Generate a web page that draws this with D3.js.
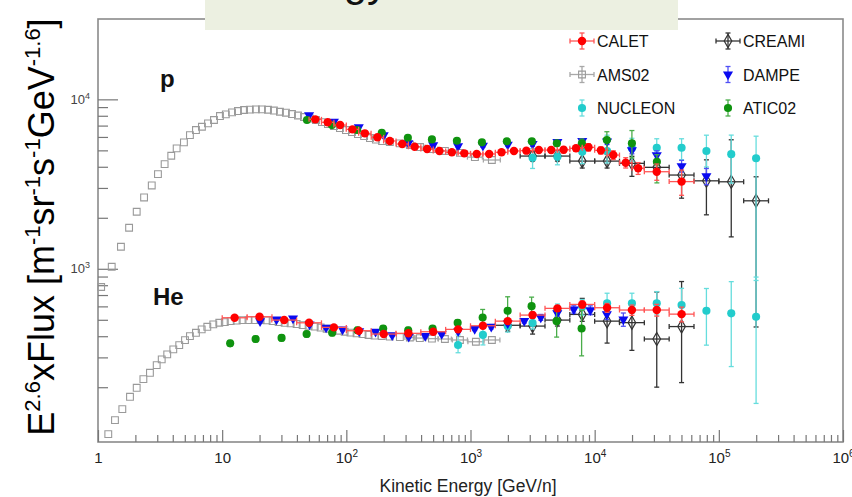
<!DOCTYPE html>
<html>
<head>
<meta charset="utf-8">
<script src="https://cdn.jsdelivr.net/npm/d3@7"></script>
<style>
  body { margin: 0; background: #fff; }
  text { font-family: "Liberation Sans", Arial, sans-serif; }
</style>
</head>
<body>
<script>
// ---- data (E in GeV/n, flux = E^2.6 x Flux) ----
var xTicks = [1, 10, 1e2, 1e3, 1e4, 1e5, 1e6];
var yTicks = [1e3, 1e4];

var amsP_E = [1.06, 1.29, 1.53, 1.78, 2.05, 2.35, 2.71, 3.04, 3.44, 3.89, 4.30, 4.92, 5.50, 6.15, 6.87, 7.69, 8.59, 9.60, 10.7, 12.0, 13.4, 15.0, 16.7, 18.7, 20.9, 23.4, 26.1, 29.2, 32.6, 36.5, 40.8, 45.6, 50.9, 56.9, 63.6, 71.1, 79.5, 88.8, 99.3, 111, 124, 139, 155, 173, 194, 224, 270, 325, 392, 489, 622, 822, 1085, 1486];
var amsP_F = [781, 1028, 1349, 1746, 2170, 2636, 3104, 3622, 4150, 4645, 5140, 5576, 6150, 6590, 6890, 7216, 7555, 7969, 8150, 8380, 8530, 8650, 8700, 8720, 8720, 8680, 8590, 8450, 8340, 8190, 8030, 7870, 7710, 7555, 7340, 7150, 6950, 6760, 6590, 6410, 6240, 6070, 5910, 5790, 5675, 5600, 5500, 5380, 5230, 5090, 4960, 4830, 4560, 4385];

var amsHe_E = [1.21, 1.37, 1.57, 1.81, 2.05, 2.32, 2.62, 2.97, 3.26, 3.61, 4.04, 4.51, 5.02, 5.50, 6.15, 6.84, 7.59, 8.48, 9.48, 10.5, 11.7, 13.1, 14.6, 16.3, 18.3, 20.4, 22.8, 25.5, 28.5, 31.9, 35.6, 39.8, 44.5, 49.7, 55.6, 62.1, 69.4, 77.6, 86.7, 96.9, 108, 121, 135, 151, 169, 193, 224, 270, 325, 391, 489, 622, 822, 1105, 1487];
var amsHe_F = [105.7, 127.9, 148.5, 175.6, 198.4, 223.4, 243.3, 270.1, 291.9, 312.4, 334.4, 354.5, 379.5, 400.6, 419, 438.8, 454.6, 469.7, 480.1, 484.7, 491.3, 494.6, 498, 498, 498, 498, 496, 491, 485, 480, 476, 472, 465, 460, 456, 450, 443, 436, 431, 425, 420, 416, 412, 407, 403, 401, 398, 395, 393, 390, 387, 385, 380, 371, 380];

var caletP_E = [56.2, 70.8, 89.1, 112, 141, 178, 224, 282, 355, 447, 562, 708, 891, 1122, 1413, 1778, 2239, 2818, 3548, 4467, 5623, 7079, 8913, 11220, 14125, 17783, 22387, 31623, 50119];
var caletP_F = [7620, 7320, 7050, 6650, 6300, 5970, 5680, 5450, 5250, 5090, 4960, 4870, 4800, 4760, 4760, 4870, 4960, 4980, 5020, 5020, 5040, 5140, 5210, 5000, 4690, 4230, 3920, 3740, 3270];
var caletP_err = [0.02, 0.02, 0.02, 0.02, 0.02, 0.02, 0.02, 0.02, 0.02, 0.02, 0.02, 0.02, 0.02, 0.02, 0.02, 0.02, 0.02, 0.03, 0.03, 0.03, 0.04, 0.04, 0.05, 0.05, 0.06, 0.07, 0.08, 0.11, 0.17];
var caletP_bin = [0.05, 0.05, 0.05, 0.05, 0.05, 0.05, 0.05, 0.05, 0.05, 0.05, 0.05, 0.05, 0.05, 0.05, 0.05, 0.05, 0.05, 0.05, 0.05, 0.05, 0.05, 0.05, 0.05, 0.05, 0.05, 0.05, 0.05, 0.1, 0.1];

var caletHe_E = [12.6, 20.0, 31.6, 50.1, 79.4, 126, 200, 316, 501, 794, 1259, 1995, 3162, 5012, 7943, 12589, 19953, 31623, 50119];
var caletHe_F = [514, 521, 498, 480, 451, 431, 412, 416, 425, 439, 461, 491, 533, 584, 616, 589, 571, 571, 540];
var caletHe_err = [0.02, 0.02, 0.02, 0.02, 0.02, 0.02, 0.02, 0.02, 0.02, 0.02, 0.03, 0.03, 0.04, 0.04, 0.05, 0.06, 0.07, 0.08, 0.1];

var dampeP_E = [50.1, 79.4, 126, 200, 316, 501, 794, 1259, 1995, 3162, 5012, 7943, 12589, 19953, 31623, 50119, 79433];
var dampeP_F = [8080, 7380, 6850, 6150, 5520, 5370, 5300, 5330, 5410, 5450, 5600, 5680, 5640, 5020, 4690, 4040, 3520];
var dampeP_err = [0.02, 0.02, 0.02, 0.02, 0.02, 0.02, 0.02, 0.02, 0.02, 0.03, 0.03, 0.03, 0.04, 0.05, 0.06, 0.08, 0.11];

var dampeHe_E = [20.2, 27.4, 37.2, 50.6, 68.7, 93.3, 127, 172, 234, 318, 432, 586, 796, 1081, 1469, 1995, 2710, 3681, 5000, 6792, 9226, 12531, 17022];
var dampeHe_F = [491, 503, 510, 470, 450, 439, 429, 425, 406, 397, 401, 412, 429, 441, 455, 478, 493, 517, 548, 576, 570, 540, 503];
var dampeHe_err = [0.02, 0.02, 0.02, 0.02, 0.02, 0.02, 0.02, 0.02, 0.02, 0.02, 0.02, 0.02, 0.02, 0.02, 0.03, 0.03, 0.03, 0.04, 0.04, 0.05, 0.06, 0.07, 0.09];

var nucP_E = [3162, 5012, 7943, 12589, 19953, 31623, 50119, 79433, 125893, 199526];
var nucP_F = [4520, 4580, 4910, 4955, 5140, 5180, 5180, 4955, 4750, 4490];
var nucP_up = [0.135, 0.07, 0.19, 0.24, 0.146, 0.13, 0.13, 0.24, 0.295, 0.35];
var nucP_dn = [0.135, 0.103, 0.15, 0.15, 0.162, 0.14, 0.15, 0.195, 0.326, 0.81];

var nucHe_E = [794, 1259, 1995, 3162, 5012, 7943, 12589, 19953, 31623, 50119, 79433, 125893, 199526];
var nucHe_F = [355, 407, 459, 479, 571, 597, 626, 626, 626, 611, 565, 546, 521];
var nucHe_up = [0.146, 0.12, 0.085, 0.085, 0.085, 0.104, 0.146, 0.146, 0.172, 0.255, 0.354, 0.538, 0.715];
var nucHe_dn = [0.1, 0.127, 0.078, 0.078, 0.078, 0.107, 0.087, 0.127, 0.147, 0.15, 0.373, 0.515, 0.692];

var creamP_E = [3162, 5012, 7943, 12589, 19953, 31623, 50119, 79433, 125893, 199526];
var creamP_F = [4627, 4627, 4321, 4321, 4191, 3970, 3575, 3305, 3262, 2519];
var creamP_up = [0.07, 0.07, 0.1, 0.1, 0.1, 0.085, 0.146, 0.33, 0.77, 0.386];
var creamP_dn = [0.066, 0.066, 0.09, 0.09, 0.162, 0.078, 0.27, 0.37, 0.527, 0.82];

var creamHe_E = [1995, 3162, 5012, 7943, 12589, 19953, 31623, 50119];
var creamHe_F = [464, 459, 498, 538, 491, 481, 385, 456];
var creamHe_up = [0.085, 0.115, 0.085, 0.243, 0.295, 0.348, 0.895, 0.844];
var creamHe_dn = [0.078, 0.103, 0.078, 0.09, 0.258, 0.314, 0.48, 0.533];

var aticP_E = [48.2, 76.6, 122, 193, 313, 489, 777, 1236, 1963, 3120, 4960, 7890, 12540, 19950, 31700];
var aticP_F = [7550, 7050, 6590, 6350, 5930, 5800, 5700, 5575, 5650, 5650, 5500, 5500, 5750, 5500, 4285];
var aticP_up = [0.02, 0.02, 0.02, 0.02, 0.02, 0.02, 0.02, 0.02, 0.02, 0.03, 0.04, 0.06, 0.12, 0.19, 0.1];
var aticP_dn = [0.02, 0.02, 0.02, 0.02, 0.02, 0.02, 0.02, 0.02, 0.02, 0.03, 0.04, 0.06, 0.13, 0.18, 0.25];

var aticHe_E = [11.6, 18.6, 30.1, 47.9, 76.9, 123, 198, 315, 495, 788, 1253, 1991, 3105, 4940, 7850];
var aticHe_F = [363, 385, 391, 412, 419, 434, 444, 434, 444, 480, 516, 565, 602, 491, 444];
var aticHe_up = [0.04, 0.04, 0.04, 0.04, 0.04, 0.04, 0.04, 0.04, 0.04, 0.04, 0.115, 0.21, 0.13, 0.16, 0.28];
var aticHe_dn = [0.04, 0.04, 0.04, 0.04, 0.04, 0.04, 0.04, 0.04, 0.04, 0.04, 0.103, 0.127, 0.14, 0.195, 0.31];

// ---- set up ----
var width = 852, height = 497;
var frameL = 98, frameR = 843, frameT = 19, frameB = 442;

var svg = d3.select("body").append("svg")
    .attr("width", width)
    .attr("height", height);

var x = d3.scaleLog().domain([1, 1e6]).range([frameL, frameR]);
var y = d3.scaleLog().domain([95, 29800]).range([frameB, frameT]);

// frame
svg.append("rect")
    .attr("x", frameL).attr("y", frameT)
    .attr("width", frameR - frameL).attr("height", frameB - frameT)
    .attr("fill", "#fff")
    .attr("stroke", "#8a8a8a")
    .attr("stroke-width", 1.6);

// minor tick values, 2..9 of each decade
function minors(lo, hi) {
  var out = [];
  for (var e = lo; e < hi; e++)
    for (var k = 2; k <= 9; k++) out.push(k * Math.pow(10, e));
  return out;
}

// X axis, ticks pointing into the frame
svg.append("g")
    .attr("transform", "translate(0," + frameB + ")")
    .call(d3.axisBottom(x).tickValues(minors(0, 6)).tickSizeInner(-7).tickSizeOuter(0).tickFormat(""))
    .call(g => g.select(".domain").remove())
    .call(g => g.selectAll("line").attr("stroke", "#777").attr("stroke-width", 1.2));

svg.append("g")
    .attr("transform", "translate(0," + frameB + ")")
    .call(d3.axisBottom(x).tickValues(xTicks).tickSizeInner(-12).tickSizeOuter(0).tickPadding(10))
    .call(g => g.select(".domain").remove())
    .call(g => g.selectAll("line").attr("stroke", "#777").attr("stroke-width", 1.2))
    .call(g => g.selectAll("text").each(function(d) {
      var t = d3.select(this).text("")
          .attr("font-size", 15).attr("fill", "#222")
          .attr("font-family", "'Liberation Sans', Arial, sans-serif");
      var e = Math.round(Math.log10(d));
      if (e === 0) t.text("1");
      else if (e === 1) t.text("10");
      else {
        t.append("tspan").text("10");
        t.append("tspan").attr("dy", -6).attr("font-size", 10).text(e);
      }
    }));

// Y axis
svg.append("g")
    .attr("transform", "translate(" + frameL + ",0)")
    .call(d3.axisLeft(y).tickValues(minors(2, 4).filter(v => v > 95 && v < 29800)).tickSizeInner(-10).tickSizeOuter(0).tickFormat(""))
    .call(g => g.select(".domain").remove())
    .call(g => g.selectAll("line").attr("stroke", "#777").attr("stroke-width", 1.2));

svg.append("g")
    .attr("transform", "translate(" + frameL + ",0)")
    .call(d3.axisLeft(y).tickValues(yTicks).tickSizeInner(-20).tickSizeOuter(0).tickPadding(8))
    .call(g => g.select(".domain").remove())
    .call(g => g.selectAll("line").attr("stroke", "#777").attr("stroke-width", 1.2))
    .call(g => g.selectAll("text").each(function(d) {
      var t = d3.select(this).text("")
          .attr("font-size", 13).attr("fill", "#444")
          .attr("font-family", "'Liberation Sans', Arial, sans-serif");
      t.append("tspan").text("10");
      t.append("tspan").attr("dy", -5).attr("font-size", 9).text(Math.round(Math.log10(d)));
    }));

// axis titles
svg.append("text")
    .attr("x", 468).attr("y", 492)
    .attr("text-anchor", "middle")
    .attr("font-size", 17.5)
    .attr("fill", "#222")
    .text("Kinetic Energy [GeV/n]");

var yt = svg.append("text")
    .attr("transform", "translate(54,227) rotate(-90)")
    .attr("text-anchor", "middle")
    .attr("font-family", "'Open Sans', sans-serif")
    .attr("font-size", 36)
    .attr("fill", "#000");
[["E", 0], ["2.6", 1], ["xFlux [m", 0], ["-1", 1], ["sr", 0], ["-1", 1], ["s", 0], ["-1", 1], ["GeV", 0], ["-1.6", 1], ["]", 0]]
  .forEach(function(p, i, arr) {
    var prev = i > 0 ? arr[i - 1][1] : 0;
    var dy = p[1] && !prev ? -14 : (!p[1] && prev ? 14 : 0);
    yt.append("tspan").attr("dy", dy).attr("font-size", p[1] ? 22 : 36).text(p[0]);
  });

// title box peeking in at the top
svg.append("rect")
    .attr("x", 205).attr("y", 0)
    .attr("width", 473).attr("height", 30)
    .attr("fill", "#ecf0e1");
svg.append("text")
    .attr("x", 388).attr("y", -4)
    .attr("text-anchor", "end")
    .attr("font-family", "'Open Sans', sans-serif")
    .attr("font-size", 42)
    .attr("fill", "#111")
    .text("Energy");

// ---- series drawing ----
var plot = svg.append("g");

function drawSet(s, g) {
  g = g || plot.append("g");
  var idx = d3.range(s.E.length);
  var up = s.up || s.err, dn = s.dn || s.err;
  var px = s.px || function(i) { return x(s.E[i]); };
  var py = s.py || function(i) { return y(s.F[i]); };
  var bars = g.append("g")
      .attr("stroke", s.bar)
      .attr("stroke-width", 1.3);

  function errors() {
    idx.forEach(function(i) {
      var cx = px(i), cy = py(i);
      if (up) {
        var y1 = s.vy ? cy - s.vy : y(s.F[i] * (1 + up[i]));
        var y2 = s.vy ? cy + s.vy : y(s.F[i] * (1 - dn[i]));
        bars.append("line").attr("x1", cx).attr("x2", cx).attr("y1", y1).attr("y2", y2);
        bars.append("line").attr("x1", cx - 2.5).attr("x2", cx + 2.5).attr("y1", y1).attr("y2", y1);
        bars.append("line").attr("x1", cx - 2.5).attr("x2", cx + 2.5).attr("y1", y2).attr("y2", y2);
      }
      var b = s.bin == null ? 0 : (typeof s.bin === "number" ? s.bin : s.bin[i]);
      if (b) {
        var x1 = s.hx ? cx - s.hx : x(s.E[i] / Math.pow(10, b));
        var x2 = s.hx ? cx + s.hx : x(s.E[i] * Math.pow(10, b));
        bars.append("line").attr("x1", x1).attr("x2", x2).attr("y1", cy).attr("y2", cy);
        bars.append("line").attr("x1", x1).attr("x2", x1).attr("y1", cy - 2.5).attr("y2", cy + 2.5);
        bars.append("line").attr("x1", x2).attr("x2", x2).attr("y1", cy - 2.5).attr("y2", cy + 2.5);
      }
    });
  }

  if (!s.barsOnTop) errors();
  g.append("g").selectAll("path")
      .data(idx)
    .enter().append("path")
      .attr("d", d3.symbol().type(s.type).size(s.size))
      .attr("transform", function(i) {
        return "translate(" + px(i) + "," + py(i) + ")" + (s.flip ? " rotate(180)" : "");
      })
      .attr("fill", s.fill)
      .attr("stroke", s.stroke || "none")
      .attr("stroke-width", s.sw || 1);
  if (s.barsOnTop) { bars.raise(); errors(); }
}

var styles = {
  AMS02:   {type: d3.symbolSquare, size: 46, fill: "none", stroke: "#9a9a9a", sw: 1.1, bar: "#a8a8a8"},
  CREAMI:  {type: d3.symbolDiamond, size: 50, fill: "#fff", stroke: "#333", sw: 1.2, bar: "#333", barsOnTop: true},
  NUCLEON: {type: d3.symbolCircle, size: 52, fill: "#22cccc", bar: "#66dddd"},
  DAMPE:   {type: d3.symbolTriangle, size: 44, fill: "#0a0af0", bar: "#5050f5", flip: true},
  ATIC02:  {type: d3.symbolCircle, size: 52, fill: "#0f930f", bar: "#4aad4a"},
  CALET:   {type: d3.symbolCircle, size: 56, fill: "#ff0000", bar: "#ff5555"}
};

function withStyle(name, o) { return Object.assign({}, styles[name], o); }

// AMS02 (bin bars only where they show between the squares)
function amsBins(E) {
  return E.map(function(e, i) {
    if (e < 300) return 0;
    var a = E[i - 1], b = E[i + 1] || e * e / a;
    return Math.log10(Math.min(b / e, e / a)) / 2;
  });
}
drawSet(withStyle("AMS02", {E: amsP_E, F: amsP_F, bin: amsBins(amsP_E)}));
drawSet(withStyle("AMS02", {E: amsHe_E, F: amsHe_F, bin: amsBins(amsHe_E)}));

drawSet(withStyle("CREAMI", {E: creamP_E, F: creamP_F, up: creamP_up, dn: creamP_dn, bin: 0.1}));
drawSet(withStyle("CREAMI", {E: creamHe_E, F: creamHe_F, up: creamHe_up, dn: creamHe_dn, bin: 0.1}));

drawSet(withStyle("NUCLEON", {E: nucP_E, F: nucP_F, up: nucP_up, dn: nucP_dn}));
drawSet(withStyle("NUCLEON", {E: nucHe_E, F: nucHe_F, up: nucHe_up, dn: nucHe_dn}));

drawSet(withStyle("DAMPE", {E: dampeP_E, F: dampeP_F, err: dampeP_err}));
drawSet(withStyle("DAMPE", {E: dampeHe_E, F: dampeHe_F, err: dampeHe_err}));

drawSet(withStyle("ATIC02", {E: aticP_E, F: aticP_F, up: aticP_up, dn: aticP_dn}));
drawSet(withStyle("ATIC02", {E: aticHe_E, F: aticHe_F, up: aticHe_up, dn: aticHe_dn}));

drawSet(withStyle("CALET", {E: caletP_E, F: caletP_F, err: caletP_err, bin: caletP_bin}));
drawSet(withStyle("CALET", {E: caletHe_E, F: caletHe_F, err: caletHe_err, bin: 0.1}));

// species labels
svg.append("text").attr("x", 160).attr("y", 87)
    .attr("font-size", 24).attr("font-weight", "bold").attr("fill", "#111").text("p");
svg.append("text").attr("x", 153).attr("y", 305)
    .attr("font-size", 24).attr("font-weight", "bold").attr("fill", "#111").text("He");

// ---- legend ----
var legendItems = [
  {name: "CALET", col: 0, row: 0, h: true},
  {name: "AMS02", col: 0, row: 1, h: true},
  {name: "NUCLEON", col: 0, row: 2, h: false},
  {name: "CREAMI", col: 1, row: 0, h: true},
  {name: "DAMPE", col: 1, row: 1, h: false},
  {name: "ATIC02", col: 1, row: 2, h: false}
];
var legX = [582, 728], legY = [41, 74.5, 108];
var legend = svg.append("g");
legendItems.forEach(function(it) {
  var lx = legX[it.col], ly = legY[it.row];
  drawSet(withStyle(it.name, {
    E: [0], F: [0], err: [0], vy: 8, bin: it.h ? 1 : null, hx: 12,
    px: function() { return lx; }, py: function() { return ly; }
  }), legend.append("g"));
  legend.append("text")
      .attr("x", lx + 15).attr("y", ly + 6)
      .attr("font-size", 16).attr("fill", "#111")
      .text(it.name);
});
</script>
</body>
</html>
